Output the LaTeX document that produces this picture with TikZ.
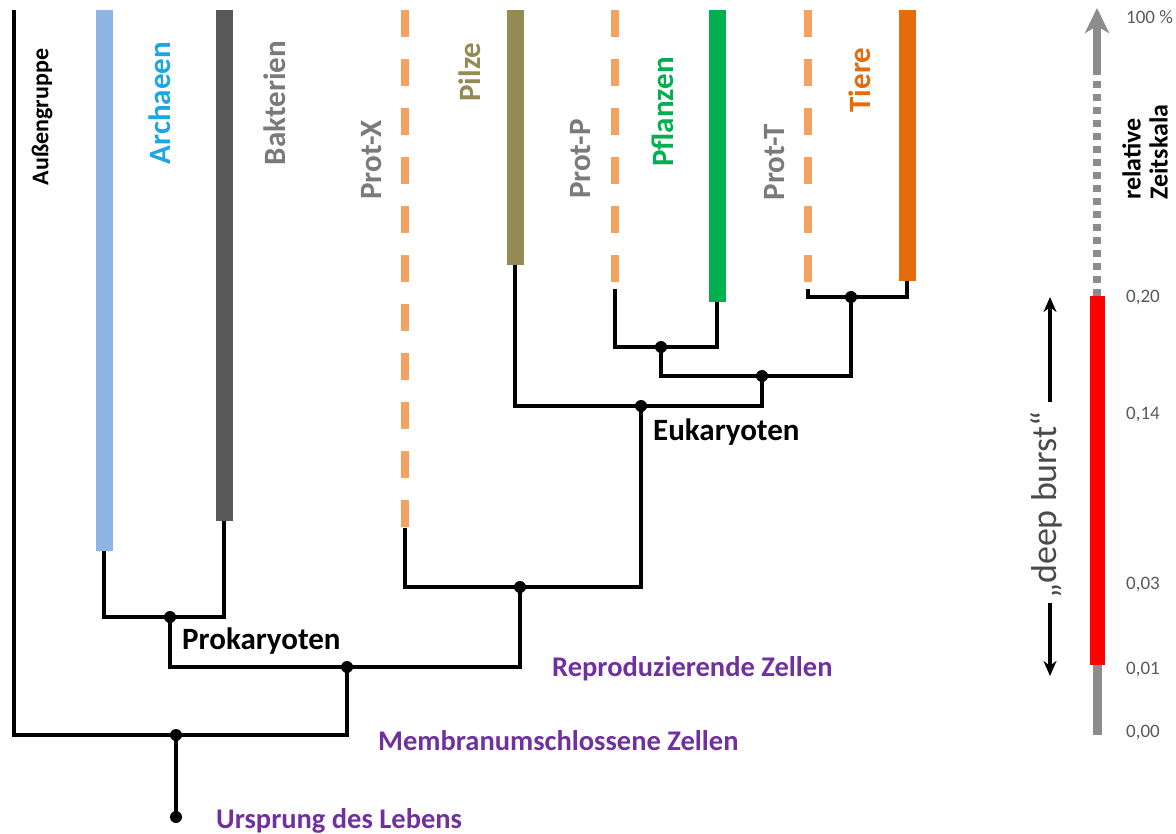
\documentclass[tikz,border=0pt]{standalone}
\usepackage{fontspec}
\setmainfont{Carlito}
\usetikzlibrary{arrows.meta}

\definecolor{archblau}{HTML}{8DB4E2}
\definecolor{archtext}{HTML}{1AA7E2}
\definecolor{bakgrau}{HTML}{595959}
\definecolor{grautext}{HTML}{7A7A7A}
\definecolor{oliv}{HTML}{948A54}
\definecolor{gruen}{HTML}{00B050}
\definecolor{tierorange}{HTML}{E46C0A}
\definecolor{protorange}{HTML}{F4A261}
\definecolor{lila}{HTML}{7030A0}
\definecolor{skala}{HTML}{8C8C8C}
\definecolor{zahlgrau}{HTML}{595959}
\definecolor{burstgrau}{HTML}{4A4A4A}

\begin{document}
\begin{tikzpicture}[x=1pt, y=1pt,
  ast/.style={line width=3.4pt},
  punkt/.style={circle, fill=black, inner sep=0pt, minimum size=12pt},
  stamm/.style={line width=17pt},
  proto/.style={line width=8pt, draw=protorange, dash pattern=on 27pt off 22pt},
  gruppe/.style={rotate=90, inner sep=0pt, font=\fontsize{31}{31}\selectfont\bfseries},
  taxon/.style={anchor=west, inner sep=0pt, font=\fontsize{31}{31}\selectfont\bfseries},
  stufe/.style={anchor=west, inner sep=0pt, text=lila, font=\fontsize{28.5}{28.5}\selectfont\bfseries},
  zahl/.style={anchor=west, inner sep=0pt, text=zahlgrau, font=\fontsize{19}{19}\selectfont},
  pfeil/.style={line width=3.8pt, -{Stealth[length=15pt, width=13pt]}}]
  \useasboundingbox (0,0) rectangle (1176,-834);

  % Stammlinien der Gruppen
  \foreach \x/\y/\farbe/\name in {104/551/archblau/archaeen, 224/521/bakgrau/bakterien,
      515/265/oliv/pilze, 717/302/gruen/pflanzen, 907/281/tierorange/tiere}
    \draw[stamm, draw=\farbe] (\x,-10) -- (\x,-\y) coordinate (\name);
  \foreach \x/\y/\name in {405/528/protx, 615/289/protp, 808/289/prott}
    \draw[proto] (\x,-10) -- (\x,-\y) coordinate (\name);
  \coordinate (aussen) at (14,-10);

  % Verzweigungen
  \coordinate (ursprung) at (176,-817);
  \coordinate (membran) at (176,-735);
  \coordinate (repro) at (347,-667);
  \coordinate (prok) at (170,-617);
  \coordinate (euk) at (520,-587);
  \coordinate (euk2) at (641,-406);
  \coordinate (euk3) at (762,-376);
  \coordinate (pflz) at (661,-347);
  \coordinate (tier) at (851,-297);

  \draw[ast] (aussen) |- (membran) -| (repro);
  \draw[ast] (membran) -- (ursprung);
  \draw[ast] (prok) |- (repro) -| (euk);
  \draw[ast] (archaeen) |- (prok) -| (bakterien);
  \draw[ast] (protx) |- (euk) -| (euk2);
  \draw[ast] (pilze) |- (euk2) -| (euk3);
  \draw[ast] (pflz) |- (euk3) -| (tier);
  \draw[ast] (protp) |- (pflz) -| (pflanzen);
  \draw[ast] (prott) |- (tier) -| (tiere);
  \foreach \p in {ursprung, membran, repro, prok, euk, euk2, euk3, pflz, tier}
    \node[punkt] (p-\p) at (\p) {};

  \node[gruppe, font=\fontsize{24}{24}\selectfont\bfseries] (l-aussen) at (42,-117) {Außengruppe};
  \node[gruppe, text=archtext] (l-arch) at (160,-103) {Archaeen};
  \node[gruppe, text=grautext] (l-bak) at (275,-103) {Bakterien};
  \node[gruppe, text=grautext] (l-protx) at (372,-160) {Prot-X};
  \node[gruppe, text=oliv] (l-pilze) at (470,-72) {Pilze};
  \node[gruppe, text=grautext] (l-protp) at (581,-159) {Prot-P};
  \node[gruppe, text=gruen] (l-pflanzen) at (663,-112) {Pflanzen};
  \node[gruppe, text=grautext] (l-prott) at (775,-162) {Prot-T};
  \node[gruppe, text=tierorange] (l-tiere) at (860,-80) {Tiere};

  \node[taxon] (l-prok) at (182,-641) {Prokaryoten};
  \node[taxon] (l-euk) at (653,-432) {Eukaryoten};
  \node[stufe] (l-repro) at (552,-669) {Reproduzierende Zellen};
  \node[stufe] (l-membran) at (378,-741) {Membranumschlossene Zellen};
  \node[stufe] (l-ursprung) at (216,-821) {Ursprung des Lebens};

  % Zeitskala
  \coordinate (null) at (1097,-735);
  \coordinate (eins) at (1097,-665);
  \coordinate (zwanzig) at (1097,-296);
  \coordinate (schaft) at (1097,-68);
  \coordinate (spitze) at (1097,-8);
  \draw[line width=9pt, skala] (null) -- (eins);
  \draw[line width=15pt, red] (eins) -- (zwanzig);
  \draw[line width=8pt, skala, dash pattern=on 7pt off 6pt] (zwanzig) -- (schaft);
  \draw[line width=8pt, skala, -{Stealth[length=25pt, width=24pt, inset=7pt]}] (schaft) -- (spitze);
  \foreach \y/\t [count=\i] in {17/{100 \%}, 298/{0,20}, 415/{0,14}, 585/{0,03}, 670/{0,01}, 733/{0,00}}
    \node[zahl] (z\i) at (1126,-\y) {\t};
  \node[rotate=90, anchor=south west, align=left, inner sep=0pt,
    font=\fontsize{26}{27}\selectfont\bfseries] (zeitskala) at (1168,-200) {relative\\Zeitskala};

  \node[rotate=90, text=burstgrau, inner sep=0pt, font=\fontsize{36}{36}\selectfont] (burst) at (1046,-505) {„deep burst“};
  \coordinate (b-oben) at (1050,-297);
  \coordinate (b-oben2) at (1050,-402);
  \coordinate (b-unten) at (1050,-676);
  \coordinate (b-unten2) at (1050,-603);
  \draw[pfeil] (b-oben2) -- (b-oben);
  \draw[pfeil] (b-unten2) -- (b-unten);
\end{tikzpicture}
\end{document}
